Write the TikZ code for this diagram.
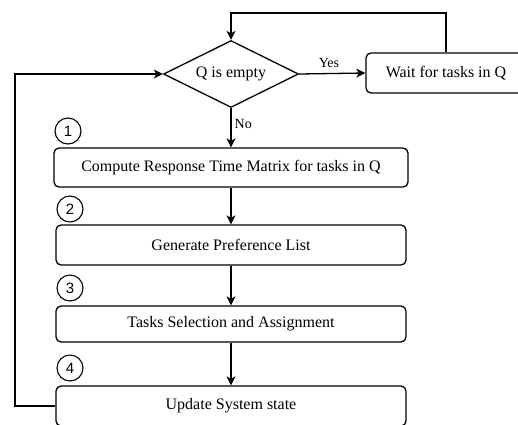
\documentclass[tikz,border=0pt]{standalone}
\usepackage{fontspec}
\setmainfont{Liberation Serif}
\newfontfamily\numfont{Liberation Sans}
\usetikzlibrary{shapes.geometric,arrows.meta}
\begin{document}
\begin{tikzpicture}[x=1pt,y=-1pt,
  line width=1.3pt,
  >={Stealth[length=9pt,width=9pt,inset=2.5pt]},
  stepbox/.style={draw,rounded corners=5pt,inner sep=0pt,font=\fontsize{16}{18}\selectfont},
  numcirc/.style={draw,circle,minimum size=26pt,inner sep=0pt,line width=1.1pt,font=\numfont\fontsize{15}{17}\selectfont},
  lbl/.style={inner sep=0pt,font=\fontsize{14}{16}\selectfont}]
\useasboundingbox (0,0) rectangle (518,424);
\clip (0,0) rectangle (518,424);
\node[draw,diamond,aspect=2,minimum width=135pt,minimum height=67pt,inner sep=0pt,font=\fontsize{16}{18}\selectfont] (q) at (231,74) {Q is empty};
\node[stepbox,minimum width=160pt,minimum height=40pt] (wait) at (446,73) {Wait for tasks in Q};
\node[stepbox,minimum width=354pt,minimum height=39pt] (s1) at (231,167.5) {Compute Response Time Matrix for tasks in Q};
\node[stepbox,minimum width=350pt,minimum height=40pt] (s2) at (231,245) {Generate Preference List};
\node[stepbox,minimum width=350pt,minimum height=36pt] (s3) at (231,324) {Tasks Selection and Assignment};
\node[stepbox,minimum width=350pt,minimum height=40pt] (s4) at (231,406) {Update System state};
\node[numcirc] (c1) at (68,131) {1};
\node[numcirc] (c2) at (70,209) {2};
\node[numcirc] (c3) at (70,288) {3};
\node[numcirc] (c4) at (70,368) {4};
\coordinate (tl) at (231,13);
\coordinate (tr) at (446,13);
\coordinate (bl) at (15,406);
\coordinate (ul) at (15,74);
\draw[->] (q.east) -- node[lbl,above=5pt,pos=0.45]{Yes} (wait.west);
\draw[->] (q.south) -- node[lbl,right=3pt,pos=0.4]{No} (s1.north);
\draw[->] (s1) -- (s2);
\draw[->] (s2) -- (s3);
\draw[->] (s3) -- (s4);
\draw[->] (wait.north) -- (tr) -- (tl) -- (q.north);
\draw[->] (s4.west) -- (bl) -- (ul) -- (q.west);
\end{tikzpicture}
\end{document}
